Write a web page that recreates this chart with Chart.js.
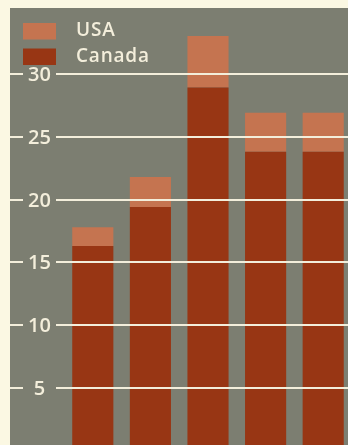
<!DOCTYPE html>
<html>
<head>
<meta charset="utf-8">
<script src="https://cdn.jsdelivr.net/npm/chart.js@4"></script>
<style>
  html, body { margin: 0; padding: 0; width: 348px; height: 445px; overflow: hidden; background: #fbf8e3; }
  #panel { position: absolute; left: 10px; top: 8px; width: 338px; height: 437px; overflow: hidden; background: #7c7e71; }
  #chart { position: absolute; left: 0; top: 0; }
</style>
</head>
<body>
<div id="panel"><canvas id="chart" width="342" height="443"></canvas></div>
<script>
const categories = ['1', '2', '3', '4', '5'];
const canada = [16.3, 19.4, 28.9, 23.8, 23.8];
const usa = [1.5, 2.4, 4.1, 3.1, 3.1];
const yTicks = [5, 10, 15, 20, 25, 30];

const INK = '#f3eedb';
const FONT = '"Open Sans", Lato, sans-serif';

// gridlines go over the bars, broken where the value label sits
const overlayGrid = {
  id: 'overlayGrid',
  afterDatasetsDraw(chart) {
    const { ctx, scales: { y }, chartArea } = chart;
    ctx.save();
    ctx.strokeStyle = INK;
    ctx.lineWidth = 2;
    ctx.fillStyle = INK;
    ctx.font = '600 20px ' + FONT;
    ctx.textAlign = 'center';
    ctx.textBaseline = 'middle';
    yTicks.forEach(v => {
      const py = Math.round(y.getPixelForValue(v));
      ctx.beginPath();
      ctx.moveTo(0, py); ctx.lineTo(13, py);
      ctx.moveTo(46, py); ctx.lineTo(chartArea.right + 10, py);
      ctx.stroke();
      ctx.fillText(String(v), 29.5, py + 1);
    });
    ctx.restore();
  }
};

const cornerLegend = {
  id: 'cornerLegend',
  afterDraw(chart) {
    const { ctx } = chart;
    const items = chart.data.datasets.slice().reverse();
    ctx.save();
    ctx.font = '600 19px ' + FONT;
    ctx.letterSpacing = '0.8px';
    ctx.textBaseline = 'middle';
    items.forEach((ds, i) => {
      const top = 15 + i * 25.5;
      ctx.fillStyle = ds.backgroundColor;
      ctx.fillRect(13, top, 33, 16.5);
      ctx.fillStyle = INK;
      ctx.fillText(ds.label, 66, top + 8);
    });
    ctx.restore();
  }
};

new Chart(document.getElementById('chart'), {
  type: 'bar',
  data: {
    labels: categories,
    datasets: [
      { label: 'Canada', data: canada, backgroundColor: '#983614' },
      { label: 'USA', data: usa, backgroundColor: '#c57450' },
    ],
  },
  options: {
    responsive: false,
    animation: false,
    layout: { padding: { left: 54, right: 0, top: 0, bottom: 0 } },
    datasets: { bar: { barPercentage: 0.714, categoryPercentage: 1, borderWidth: 0 } },
    plugins: { legend: { display: false }, tooltip: { enabled: false } },
    scales: {
      x: { stacked: true, display: false },
      y: { stacked: true, display: false, min: 0, max: 35.23 },
    },
  },
  plugins: [overlayGrid, cornerLegend],
});
</script>
</body>
</html>
